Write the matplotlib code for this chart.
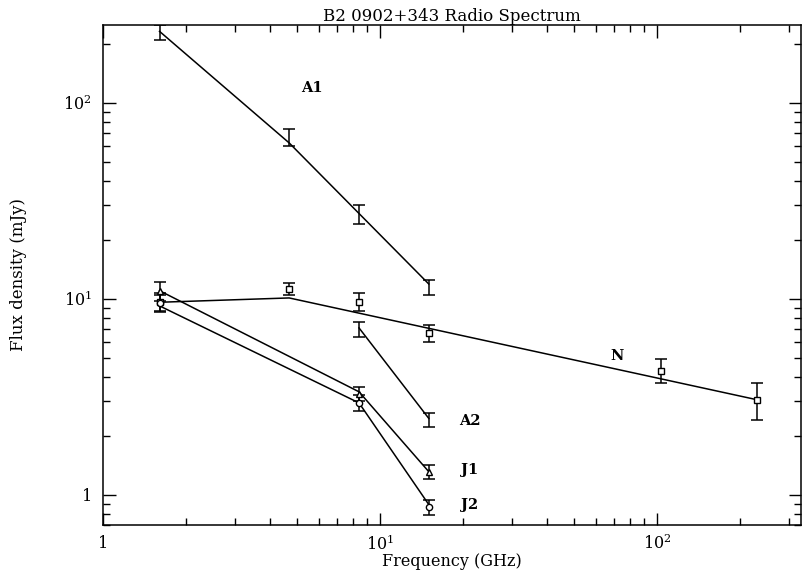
import numpy as np
import matplotlib
matplotlib.use('Agg')
import matplotlib.pyplot as plt
from matplotlib.ticker import LogLocator, FixedLocator, FixedFormatter, NullFormatter

plt.rcParams['font.family'] = 'DejaVu Serif'
plt.rcParams['mathtext.fontset'] = 'dejavuserif'

# Measured points (frequency GHz, flux mJy, error mJy)
a1_freq = [1.6, 4.7, 8.4, 15.0]
a1_flux = [230, 67, 27.2, 11.5]
a1_err = [20, 7, 3.0, 1.0]

a2_freq = [8.4, 15.0]
a2_flux = [7.0, 2.41]
a2_err = [0.65, 0.19]

n_freq = [1.6, 4.7, 8.4, 15.0, 103, 230]
n_flux = [9.65, 11.2, 9.65, 6.7, 4.3, 3.05]
n_err = [1.0, 0.8, 1.0, 0.65, 0.6, 0.65]

j1_freq = [1.6, 8.4, 15.0]
j1_flux = [11.0, 3.27, 1.31]
j1_err = [1.2, 0.28, 0.11]

j2_freq = [1.6, 8.4, 15.0]
j2_flux = [9.5, 2.94, 0.86]
j2_err = [0.9, 0.27, 0.075]

# Model spectra (line vertices)
a1_fit_freq = [1.6, 4.7, 15.0]
a1_fit_flux = [232, 62.5, 11.9]
a2_fit_freq = [8.4, 15.0]
a2_fit_flux = [7.1, 2.45]
n_fit_freq = [1.6, 4.7, 230]
n_fit_flux = [9.6, 10.1, 3.05]
j1_fit_freq = [1.6, 8.4, 15.0]
j1_fit_flux = [11.0, 3.35, 1.31]
j2_fit_freq = [1.6, 8.4, 15.0]
j2_fit_flux = [9.2, 2.94, 0.89]

labels = ['A1', 'N', 'A2', 'J1', 'J2']
label_x = [5.68, 71.7, 21.1, 21.1, 21.1]
label_y = [119, 5.12, 2.39, 1.33, 0.89]

fig = plt.figure(figsize=(8.02, 5.72), dpi=100)
ax = fig.add_axes([0.1284, 0.0822, 0.8704, 0.8741])

lw = 1.1
eb = dict(fmt='none', ecolor='black', elinewidth=lw, capsize=4.5, capthick=lw)

for f, s in [(a1_fit_freq, a1_fit_flux), (a2_fit_freq, a2_fit_flux),
             (n_fit_freq, n_fit_flux), (j1_fit_freq, j1_fit_flux),
             (j2_fit_freq, j2_fit_flux)]:
    ax.plot(f, s, color='black', lw=lw)

ax.errorbar(a1_freq, a1_flux, yerr=a1_err, **eb)
ax.errorbar(a2_freq, a2_flux, yerr=a2_err, **eb)
ax.errorbar(n_freq, n_flux, yerr=n_err, **eb)
ax.errorbar(j1_freq, j1_flux, yerr=j1_err, **eb)
ax.errorbar(j2_freq, j2_flux, yerr=j2_err, **eb)

ax.plot(n_freq, n_flux, 's', mfc='white', mec='black', ms=4.5, mew=1.0)
ax.plot(j1_freq, j1_flux, '^', mfc='white', mec='black', ms=4.5, mew=1.0)
ax.plot(j2_freq, j2_flux, 'o', mfc='white', mec='black', ms=4.5, mew=1.0)

for t, x, y in zip(labels, label_x, label_y):
    ax.text(x, y, t, ha='center', va='center', fontsize=10.5, fontweight='semibold')

ax.set_xscale('log')
ax.set_yscale('log')
ax.set_xlim(1, 331)
ax.set_ylim(0.70, 250)

ax.xaxis.set_major_locator(FixedLocator([1, 10, 100]))
ax.xaxis.set_major_formatter(FixedFormatter(['1', r'$10^1$', r'$10^2$']))
ax.yaxis.set_major_locator(FixedLocator([1, 10, 100]))
ax.yaxis.set_major_formatter(FixedFormatter(['1', r'$10^1$', r'$10^2$']))
ax.xaxis.set_minor_locator(LogLocator(base=10, subs=np.arange(2, 10), numticks=20))
ax.yaxis.set_minor_locator(LogLocator(base=10, subs=np.arange(2, 10), numticks=20))
ax.xaxis.set_minor_formatter(NullFormatter())
ax.yaxis.set_minor_formatter(NullFormatter())

ax.tick_params(which='both', direction='in', top=True, right=True, width=1.0, labelsize=11.5)
ax.tick_params(which='major', length=9)
ax.tick_params(axis='x', which='major', pad=7)
ax.tick_params(axis='y', which='major', pad=8)
ax.tick_params(which='minor', length=5)
for sp in ax.spines.values():
    sp.set_linewidth(1.1)

ax.set_title('B2 0902+343 Radio Spectrum', fontsize=12, pad=3)
ax.set_xlabel('Frequency (GHz)', fontsize=11.5, labelpad=-1)
ax.set_ylabel('Flux density (mJy)', fontsize=12, labelpad=26)

fig.savefig('out.png', dpi=100)
